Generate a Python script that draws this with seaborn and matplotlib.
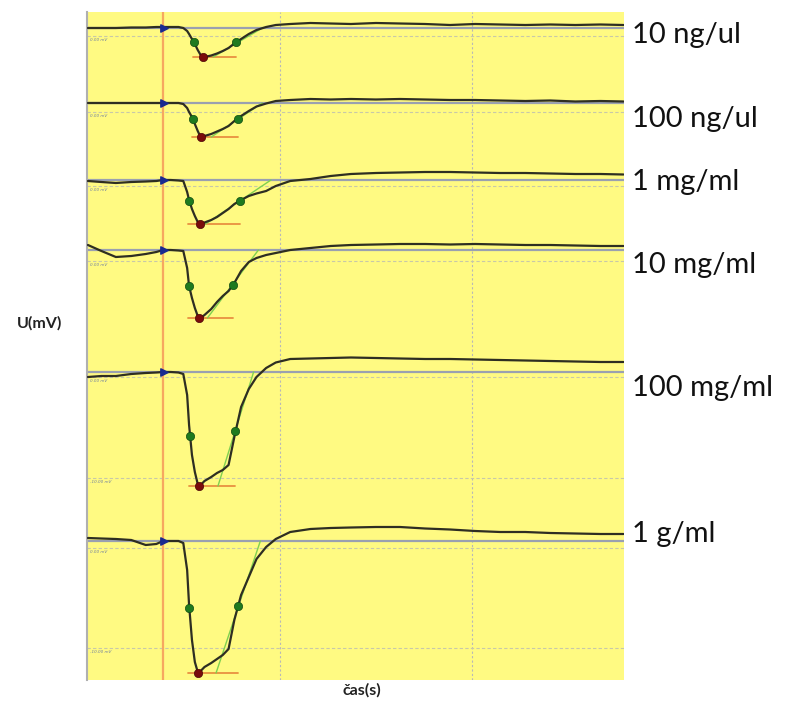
import numpy as np
import pandas as pd
import matplotlib.pyplot as plt
import seaborn as sns

# concentrations, top to bottom
labels = ["10 ng/ul", "100 ng/ul", "1 mg/ml", "10 mg/ml", "100 mg/ml", "1 g/ml"]

# common time axis (s)
t = [0.1, 1.5, 3.0, 4.6, 6.1, 7.2, 7.9, 8.7, 9.5, 10.0,
     10.4, 10.6, 10.9, 11.2, 11.5, 11.8, 12.2, 12.9, 13.5, 14.1,
     14.7, 15.3, 16.0, 16.8, 17.6, 18.6, 19.6, 21.1, 23.2, 25.3,
     27.4, 30.0, 32.5, 35.1, 37.7, 40.3, 42.9, 45.5, 48.1, 50.7,
     53.3, 55.7]

# signal relative to baseline (mV)
u_10ng = [0, 0, 0, 0.05, 0.05, 0.1, 0.1, 0.1, 0.1, 0,
          -0.3, -0.6, -1.1, -1.6, -2.2, -2.7, -2.9, -2.75, -2.55, -2.3,
          -2.0, -1.55, -1.1, -0.6, -0.2, 0.1, 0.3, 0.4, 0.5, 0.45,
          0.4, 0.5, 0.45, 0.4, 0.3, 0.4, 0.35, 0.3, 0.35, 0.3,
          0.35, 0.3]
u_100ng = [0, 0, 0, 0, 0, 0, 0, 0, 0, -0.1,
           -0.5, -0.9, -1.4, -2.1, -2.8, -3.4, -3.3, -3.1, -2.85, -2.6,
           -2.3, -1.8, -1.3, -0.8, -0.35, -0.05, 0.2, 0.3, 0.4, 0.35,
           0.4, 0.35, 0.4, 0.35, 0.3, 0.3, 0.25, 0.2, 0.25, 0.15,
           0.2, 0.15]
u_1mg = [-0.1, -0.2, -0.3, -0.2, -0.15, -0.1, 0, 0, -0.05, -0.1,
         -1.2, -2.0, -2.9, -3.6, -4.2, -4.4, -4.25, -4.0, -3.7, -3.3,
         -2.9, -2.4, -2.0, -1.6, -1.35, -1.1, -0.6, -0.1, 0.1, 0.4,
         0.6, 0.7, 0.75, 0.8, 0.8, 0.75, 0.7, 0.7, 0.65, 0.6,
         0.6, 0.55]
u_10mg = [0.5, -0.1, -0.7, -0.6, -0.4, -0.2, 0, 0, -0.05, -0.1,
          -1.8, -3.6, -4.8, -5.8, -6.6, -6.8, -6.5, -5.9, -5.2, -4.6,
          -4.1, -3.3, -2.1, -1.2, -0.8, -0.5, -0.3, 0, 0.2, 0.4,
          0.5, 0.55, 0.6, 0.6, 0.55, 0.6, 0.55, 0.5, 0.5, 0.45,
          0.4, 0.4]
u_100mg = [-0.5, -0.4, -0.4, -0.2, -0.1, -0.05, 0, 0, -0.05, -0.2,
           -2.3, -5.3, -8.3, -10.0, -11.2, -11.3, -10.9, -10.5, -10.1, -9.8,
           -9.3, -6.5, -3.5, -1.7, -0.5, 0.4, 0.95, 1.3, 1.35, 1.4,
           1.45, 1.4, 1.35, 1.3, 1.3, 1.25, 1.2, 1.15, 1.1, 1.05,
           1.0, 1.0]
u_1g = [0.3, 0.25, 0.2, 0.1, -0.4, -0.3, 0, 0, 0, -0.2,
        -2.9, -6.4, -9.9, -12.1, -13.1, -13.0, -12.6, -12.2, -11.8, -11.4,
        -10.8, -7.9, -5.4, -3.6, -1.8, -0.6, 0.2, 0.9, 1.2, 1.3,
        1.35, 1.4, 1.4, 1.25, 1.15, 1.0, 0.9, 0.9, 0.8, 0.75,
        0.7, 0.7]
traces = [u_10ng, u_100ng, u_1mg, u_10mg, u_100mg, u_1g]

# detected points per trace
onset_t = 8.0
green1_t = [11.1, 11.0, 10.6, 10.6, 10.7, 10.6]
green1_u = [-1.4, -1.6, -2.1, -3.6, -6.4, -6.7]
green2_t = [15.5, 15.7, 15.9, 15.2, 15.4, 15.7]
green2_u = [-1.4, -1.6, -2.1, -3.5, -5.9, -6.5]
min_t = [12.0, 11.8, 11.7, 11.6, 11.6, 11.5]
min_u = [-2.9, -3.4, -4.4, -6.8, -11.4, -13.2]
tan_t0 = [13.1, 12.9, 12.3, 12.5, 13.6, 13.4]
tan_t1 = [18.2, 18.2, 19.1, 17.8, 17.3, 18.0]

# layout: vertical position of each trace baseline, reference levels
offsets = [-2.8, -10.3, -18.0, -25.0, -37.2, -54.1]
ref_u = [-0.8, -0.9, -0.6, -1.1, -0.5, -0.7]
ref2_u = [None, None, None, None, -10.6, -10.7]
label_y = [43, 127, 190, 273, 396, 542]  # baseline pixel rows of right labels

sns.set_style("white")
plt.rcParams['font.family'] = ['Lato', 'DejaVu Sans']

rows = []
for i, u in enumerate(traces):
    for ti, ui in zip(t, u):
        rows.append({"t": ti, "y": ui + offsets[i], "trace": labels[i]})
df = pd.DataFrame(rows)

W, H = 787, 702
fig = plt.figure(figsize=(W / 100, H / 100), dpi=100)
ax = fig.add_axes([87 / W, 1 - 680 / H, (624 - 87) / W, (680 - 12) / H])
ax.set_facecolor("#fffa82")

for x in [20, 40]:
    ax.axvline(x, color="#b8b8b8", lw=0.8, ls=(0, (2, 2)), zorder=1)

for i in range(6):
    ax.axhline(offsets[i], color="#9aa0b0", lw=1.6, zorder=1)
    ax.axhline(offsets[i] + ref_u[i], color="#c8c8a8", lw=0.8, ls=(0, (3, 2)), zorder=1)
    ax.text(0.3, offsets[i] + ref_u[i] - 0.2, "0.00 mV", fontsize=3, color="#7080a0",
            style="italic", va="top", family="DejaVu Sans")
    if ref2_u[i] is not None:
        ax.axhline(offsets[i] + ref2_u[i], color="#c8c8a8", lw=0.8, ls=(0, (3, 2)), zorder=1)
        ax.text(0.3, offsets[i] + ref2_u[i] - 0.2, "-10.00 mV", fontsize=3, color="#7080a0",
                style="italic", va="top", family="DejaVu Sans")

ax.axvline(7.88, color="#f6a860", lw=1.6, zorder=2)

for i in range(6):
    # red minimum level and green tangent
    ax.plot([green1_t[i] - 0.1, green2_t[i]], [min_u[i] + offsets[i]] * 2,
            color="#e89040", lw=1.3, zorder=3)
    ax.plot([tan_t0[i], tan_t1[i]], [min_u[i] + offsets[i], offsets[i]],
            color="#80d050", lw=1.0, zorder=3)

sns.lineplot(data=df, x="t", y="y", units="trace", estimator=None, sort=False,
             color="#2e2e22", lw=1.6, ax=ax, zorder=4, legend=False)

ax.scatter([onset_t] * 6, offsets, marker=">", s=28, color="#1a2a90", zorder=5)
sns.scatterplot(x=green1_t + green2_t,
                y=[g + o for g, o in zip(green1_u + green2_u, offsets + offsets)],
                color="#1f7a1f", edgecolor="#0f4a0f", s=36, ax=ax, zorder=5, legend=False)
sns.scatterplot(x=min_t, y=[m + o for m, o in zip(min_u, offsets)],
                color="#7a0c0c", edgecolor="#4a0505", s=36, ax=ax, zorder=5, legend=False)

ax.set_xlim((87 - 86) / 9.65 - 0.1, (624 - 86) / 9.65)
ax.set_ylim(-68.0, -1.2)
ax.set_xticks([])
ax.set_yticks([])
ax.set_xlabel("")
ax.set_ylabel("")
for s in ["top", "right", "bottom"]:
    ax.spines[s].set_visible(False)
ax.spines["left"].set_color("#b0b0b0")
ax.spines["left"].set_linewidth(1.5)

for lab, yp in zip(labels, label_y):
    fig.text(632 / W, 1 - yp / H, lab, fontsize=21, color="#111111", va="baseline", ha="left")

fig.text(40 / W, 1 - 323 / H, "U(mV)", fontsize=11.5, fontweight="bold", color="#222222",
         ha="center", va="center")
fig.text(362 / W, 1 - 690 / H, "čas(s)", fontsize=11.5, fontweight="bold", color="#222222",
         ha="center", va="center")

fig.savefig("out.png", dpi=100, facecolor="white")
